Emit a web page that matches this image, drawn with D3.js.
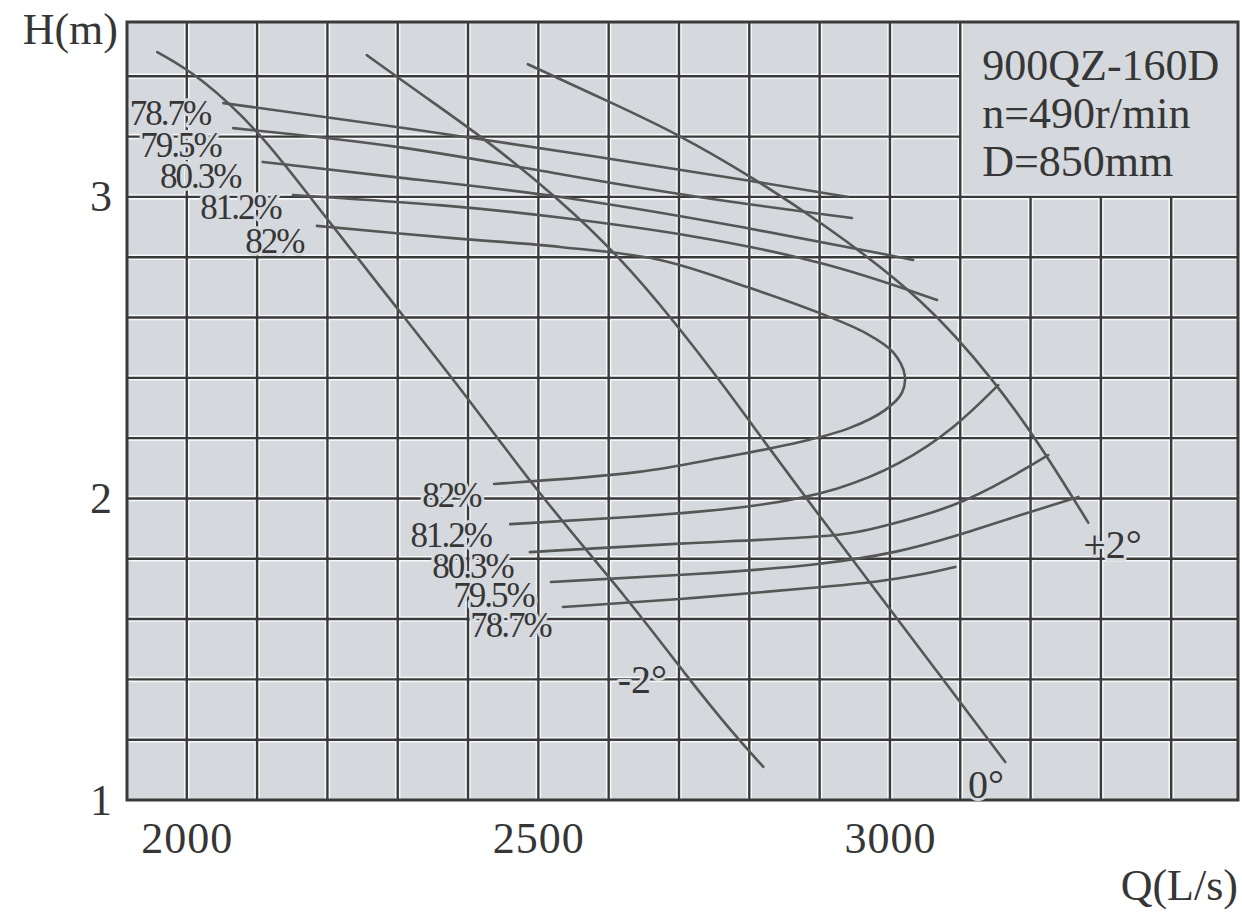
<!DOCTYPE html>
<html><head><meta charset="utf-8">
<script src="https://cdn.jsdelivr.net/npm/d3@7"></script>
<style>
html,body{margin:0;padding:0;background:#fff;}
svg{display:block;}
text{font-family:"Liberation Serif","Times New Roman",serif;fill:#363636;}
</style></head><body>
<svg id="chart" width="1242" height="915"></svg>
<script>
// ---------- axis domains & ticks ----------
const Q_MIN = 1915, Q_MAX = 3495;
const H_MIN = 1, H_MAX = 3.58;
const X_TICKS = [2000, 2500, 3000];
const Y_TICKS = [1, 2, 3];
const X_GRID = [2000,2100,2200,2300,2400,2500,2600,2700,2800,2900,3000,3100,3200,3300,3400];
const Y_GRID = [1.2,1.4,1.6,1.8,2.0,2.2,2.4,2.6,2.8,3.0,3.2,3.4];

// ---------- blade-angle H-Q curves ----------
const Q_NEG2 = [1958, 2019, 2106, 2175, 2289, 2398, 2502, 2630, 2711, 2777, 2820];
const H_NEG2 = [3.48, 3.40, 3.21, 3.00, 2.66, 2.34, 2.01, 1.66, 1.41, 1.22, 1.11];
const Q_ZERO = [2256, 2346, 2431, 2531, 2616, 2694, 2763, 2825, 2886, 2990, 3085, 3164];
const H_ZERO = [3.47, 3.32, 3.18, 2.99, 2.80, 2.585, 2.376, 2.177, 1.985, 1.663, 1.371, 1.126];
const Q_POS2 = [2485, 2606, 2697, 2801, 2900, 3050, 3152, 3213, 3282];
const H_POS2 = [3.44, 3.31, 3.21, 3.07, 2.92, 2.66, 2.38, 2.18, 1.92];
const ANGLE_LABELS = ["-2°", "0°", "+2°"];
const ANGLE_LABEL_Q = [2613, 3111, 3275];
const ANGLE_LABEL_H = [1.355, 1.007, 1.803];

// ---------- efficiency contours ----------
const ETA_LABELS = ["78.7%", "79.5%", "80.3%", "81.2%", "82%"];
// upper branches
const Q_E787_UP = [2052, 2303, 2588, 2815, 2940];
const H_E787_UP = [3.311, 3.232, 3.132, 3.049, 3.000];
const Q_E795_UP = [2066, 2303, 2531, 2730, 2946];
const H_E795_UP = [3.228, 3.172, 3.074, 2.996, 2.930];
const Q_E803_UP = [2108, 2303, 2531, 2801, 3033];
const H_E803_UP = [3.116, 3.063, 3.006, 2.897, 2.791];
const Q_E812_UP = [2151, 2374, 2531, 2720, 2911, 3067];
const H_E812_UP = [3.006, 2.973, 2.933, 2.874, 2.784, 2.658];
// 82% closed-nose contour
const Q_E82 = [2185, 2374, 2531, 2673, 2797, 2903, 2965, 3004, 3021, 3017, 2993, 2943, 2872, 2758, 2643, 2437];
const H_E82 = [2.904, 2.864, 2.834, 2.791, 2.701, 2.612, 2.549, 2.486, 2.409, 2.350, 2.293, 2.234, 2.187, 2.134, 2.088, 2.048];
// lower branches
const Q_E812_LO = [2460, 2645, 2815, 2929, 3014, 3093, 3154];
const H_E812_LO = [1.915, 1.939, 1.972, 2.028, 2.111, 2.234, 2.376];
const Q_E803_LO = [2488, 2699, 2925, 2982, 3094, 3171, 3225];
const H_E803_LO = [1.822, 1.852, 1.872, 1.902, 1.972, 2.068, 2.144];
const Q_E795_LO = [2518, 2730, 2901, 3014, 3094, 3185, 3268];
const H_E795_LO = [1.723, 1.749, 1.779, 1.822, 1.875, 1.945, 2.005];
const Q_E787_LO = [2535, 2730, 2901, 2982, 3043, 3093];
const H_E787_LO = [1.640, 1.670, 1.706, 1.723, 1.746, 1.773];
// label anchors (left end / baseline) in data units
const ETA_UP_LABEL_Q = [1919, 1934, 1962, 2019, 2083];
const ETA_UP_LABEL_H = [3.238, 3.132, 3.029, 2.927, 2.814];
const ETA_LO_LABEL_Q = [2403, 2379, 2349, 2318, 2335];
const ETA_LO_LABEL_H = [1.541, 1.640, 1.736, 1.839, 1.972];

const INFO_LINES = ["900QZ-160D", "n=490r/min", "D=850mm"];
const INFO_BOX_Q = 3100, INFO_BOX_H = 3.0;

// ---------- drawing ----------
const M = {left: 127, top: 22, right: 1238, bottom: 800};
const BG = "#d5d8dd", GRID = "#3a3a3a", HALO = "#f6f7f9", CURVE = "#565656";
const svg = d3.select("#chart");
const x = d3.scaleLinear().domain([Q_MIN, Q_MAX]).range([M.left, M.right]);
const y = d3.scaleLinear().domain([H_MIN, H_MAX]).range([M.bottom, M.top]);

svg.append("rect").attr("x", x(Q_MIN)).attr("y", y(H_MAX))
  .attr("width", x(Q_MAX) - x(Q_MIN)).attr("height", y(H_MIN) - y(H_MAX)).attr("fill", BG);

const gGrid = svg.append("g");
const gHalo = gGrid.append("g"), gDark = gGrid.append("g");
function gl(x1, y1, x2, y2) {
  gHalo.append("line").attr("x1", x1).attr("y1", y1).attr("x2", x2).attr("y2", y2)
    .attr("stroke", HALO).attr("stroke-width", 5.5);
  gDark.append("line").attr("x1", x1).attr("y1", y1).attr("x2", x2).attr("y2", y2)
    .attr("stroke", GRID).attr("stroke-width", 2.4);
}
X_GRID.forEach(v => {
  const top = v > INFO_BOX_Q ? y(INFO_BOX_H) : y(H_MAX);
  gl(x(v), y(H_MIN), x(v), top);
});
Y_GRID.forEach(v => {
  const right = v > INFO_BOX_H ? x(INFO_BOX_Q) : x(Q_MAX);
  gl(x(Q_MIN), y(v), right, y(v));
});

// frame
svg.append("rect").attr("x", x(Q_MIN)).attr("y", y(H_MAX))
  .attr("width", x(Q_MAX) - x(Q_MIN)).attr("height", y(H_MIN) - y(H_MAX))
  .attr("fill", "none").attr("stroke", GRID).attr("stroke-width", 3);

// curves
const lineSmooth = d3.line().x(d => x(d[0])).y(d => y(d[1])).curve(d3.curveBasis);
const lineLoop = d3.line().x(d => x(d[0])).y(d => y(d[1])).curve(d3.curveCatmullRom.alpha(0.5));
const zip = (a, b) => a.map((v, i) => [v, b[i]]);
const series = [
  [Q_NEG2, H_NEG2], [Q_ZERO, H_ZERO], [Q_POS2, H_POS2],
  [Q_E787_UP, H_E787_UP], [Q_E795_UP, H_E795_UP], [Q_E803_UP, H_E803_UP], [Q_E812_UP, H_E812_UP],
  [Q_E812_LO, H_E812_LO], [Q_E803_LO, H_E803_LO], [Q_E795_LO, H_E795_LO], [Q_E787_LO, H_E787_LO]
];
const gCurves = svg.append("g").attr("fill", "none").attr("stroke", CURVE).attr("stroke-width", 2.6)
  .attr("stroke-linecap", "round").attr("stroke-linejoin", "round");
gCurves.selectAll("path.s").data(series).join("path").attr("class", "s")
  .attr("d", s => lineSmooth(zip(s[0], s[1])));
gCurves.append("path").attr("d", lineLoop(zip(Q_E82, H_E82)));

// labels
function label(txt, q, h, size, ls) {
  svg.append("text").attr("x", x(q)).attr("y", y(h)).text(txt)
    .attr("font-size", size).attr("letter-spacing", ls)
    .attr("stroke", BG).attr("stroke-width", 6).attr("paint-order", "stroke")
    .attr("stroke-linejoin", "round");
}
ETA_LABELS.forEach((t, i) => label(t, ETA_UP_LABEL_Q[i], ETA_UP_LABEL_H[i], 35, -2));
ETA_LABELS.forEach((t, i) => label(t, ETA_LO_LABEL_Q[i], ETA_LO_LABEL_H[i], 35, -2));
ANGLE_LABELS.forEach((t, i) => label(t, ANGLE_LABEL_Q[i], ANGLE_LABEL_H[i], 40, 0));

// info box text
const gInfo = svg.append("g").attr("transform", `translate(${x(INFO_BOX_Q) + 22},${y(H_MAX)})`);
INFO_LINES.forEach((t, i) => gInfo.append("text").attr("x", 0).attr("y", 58 + i * 48)
  .attr("font-size", 44).text(t));

// axes
const gx = svg.append("g").attr("transform", `translate(0,${M.bottom})`)
  .call(d3.axisBottom(x).tickValues(X_TICKS).tickSize(0).tickPadding(22).tickFormat(d3.format("d")));
const gy = svg.append("g").attr("transform", `translate(${M.left},0)`)
  .call(d3.axisLeft(y).tickValues(Y_TICKS).tickSize(0).tickPadding(14).tickFormat(d3.format("d")));
[gx, gy].forEach(g => {
  g.select(".domain").remove();
  g.attr("font-family", null).attr("font-size", null);
  g.selectAll("text").attr("font-size", 44).attr("letter-spacing", 1).attr("fill", "#363636");
});

svg.append("text").attr("x", M.left - 9).attr("y", M.top + 22).attr("text-anchor", "end")
  .attr("font-size", 44).text("H(m)");
svg.append("text").attr("x", M.right).attr("y", M.bottom + 100).attr("text-anchor", "end")
  .attr("font-size", 44).text("Q(L/s)");
</script>
</body></html>
